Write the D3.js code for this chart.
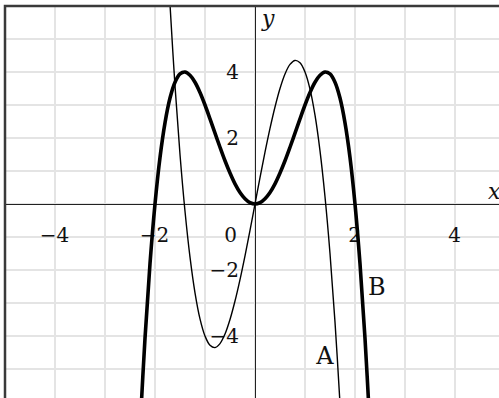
<!DOCTYPE html>
<html>
<head>
<meta charset="utf-8">
<script src="https://cdn.jsdelivr.net/npm/d3@7"></script>
<style>
  html, body { margin: 0; padding: 0; background: #fff; }
  svg { display: block; }
</style>
</head>
<body>
<div id="chart"></div>
<script>
// tick labels
const xTicks = [-4, -2, 2, 4];
const yTicks = [-4, -2, 2, 4];

// curve B (bold)
const bX = [-2.3, -2.2, -2.1, -2.0, -1.9, -1.8, -1.7, -1.6, -1.5, -1.4, -1.3, -1.2, -1.1, -1.0,
            -0.9, -0.8, -0.7, -0.6, -0.5, -0.4, -0.3, -0.2, -0.1, 0,
            0.1, 0.2, 0.3, 0.4, 0.5, 0.6, 0.7, 0.8, 0.9, 1.0,
            1.1, 1.2, 1.3, 1.4, 1.5, 1.6, 1.7, 1.8, 1.9, 2.0, 2.1, 2.2, 2.3];
const bY = [-6.82, -4.07, -1.81, 0, 1.41, 2.46, 3.21, 3.69, 3.94, 4.0, 3.9, 3.69, 3.38, 3.0,
            2.58, 2.15, 1.72, 1.31, 0.94, 0.61, 0.35, 0.16, 0.04, 0,
            0.04, 0.16, 0.35, 0.61, 0.94, 1.31, 1.72, 2.15, 2.58, 3.0,
            3.38, 3.69, 3.9, 4.0, 3.94, 3.69, 3.21, 2.46, 1.41, 0, -1.81, -4.07, -6.82];

// curve A (thin)
const aX = [-1.8, -1.75, -1.7, -1.6, -1.5, -1.4, -1.3, -1.2, -1.1, -1.0,
            -0.9, -0.8, -0.7, -0.6, -0.5, -0.4, -0.3, -0.2, -0.1, 0,
            0.1, 0.2, 0.3, 0.4, 0.5, 0.6, 0.7, 0.8, 0.9, 1.0,
            1.1, 1.2, 1.3, 1.4, 1.5, 1.6, 1.7, 1.75, 1.8];
const aY = [8.93, 7.44, 6.05, 3.58, 1.5, -0.22, -1.61, -2.69, -3.48, -4.0,
            -4.28, -4.35, -4.23, -3.94, -3.5, -2.94, -2.29, -1.57, -0.8, 0,
            0.8, 1.57, 2.29, 2.94, 3.5, 3.94, 4.23, 4.35, 4.28, 4.0,
            3.48, 2.69, 1.61, 0.22, -1.5, -3.58, -6.05, -7.44, -8.93];

const width = 499, height = 398;

const x = d3.scaleLinear().domain([-5, 5]).range([5, 505]);
const y = d3.scaleLinear().domain([-6, 6]).range([402, 6]);

const svg = d3.select("#chart")
    .append("svg")
    .attr("width", width)
    .attr("height", height);

svg.append("defs").append("clipPath")
    .attr("id", "plot")
  .append("rect")
    .attr("x", x(-5))
    .attr("y", y(6))
    .attr("width", x(5) - x(-5))
    .attr("height", y(-6) - y(6));

// grid
const grid = svg.append("g")
    .attr("stroke", "#e4e4e4")
    .attr("stroke-width", 2)
    .attr("shape-rendering", "crispEdges");

grid.selectAll(".vline")
    .data(d3.range(-4, 5))
    .enter().append("line")
    .attr("x1", (d) => x(d))
    .attr("x2", (d) => x(d))
    .attr("y1", y(6))
    .attr("y2", y(-6));

grid.selectAll(".hline")
    .data(d3.range(-5, 6))
    .enter().append("line")
    .attr("x1", x(-5))
    .attr("x2", x(5))
    .attr("y1", (d) => y(d))
    .attr("y2", (d) => y(d));

// axes
const xAxis = svg.append("g")
    .attr("transform", "translate(0," + y(0) + ")")
    .call(d3.axisBottom(x).tickValues(xTicks).tickSize(0).tickSizeOuter(0).tickPadding(24));

const yAxis = svg.append("g")
    .attr("transform", "translate(" + x(0) + ",0)")
    .call(d3.axisLeft(y).tickValues(yTicks).tickSize(0).tickSizeOuter(0).tickPadding(16));

[xAxis, yAxis].forEach((g) => {
    g.attr("font-family", "DejaVu Serif").attr("font-size", 20);
    g.select(".domain").attr("stroke", "#222").attr("stroke-width", 1.5)
        .attr("shape-rendering", "crispEdges");
    g.selectAll("text").attr("fill", "#111");
});
xAxis.selectAll("text").attr("dx", "-1");

// origin label
svg.append("text")
    .attr("x", x(0) - 18)
    .attr("y", y(0) + 38)
    .attr("text-anchor", "end")
    .attr("font-family", "DejaVu Serif")
    .attr("font-size", 20)
    .attr("fill", "#111")
    .text("0");

// curves
const curves = svg.append("g").attr("clip-path", "url(#plot)");

const line = d3.line()
    .x((d) => x(d[0]))
    .y((d) => y(d[1]))
    .curve(d3.curveCatmullRom);

curves.append("path")
    .datum(aX.map((v, i) => [v, aY[i]]))
    .attr("fill", "none")
    .attr("stroke", "#000")
    .attr("stroke-width", 1.4)
    .attr("d", line);

curves.append("path")
    .datum(bX.map((v, i) => [v, bY[i]]))
    .attr("fill", "none")
    .attr("stroke", "#000")
    .attr("stroke-width", 3.6)
    .attr("d", line);

// frame
svg.append("path")
    .attr("d", "M" + x(-5) + "," + height + "V" + y(6) + "H" + width)
    .attr("fill", "none")
    .attr("stroke", "#3a3a3a")
    .attr("stroke-width", 2.5);

// curve names and axis names
const labels = svg.append("g")
    .attr("font-family", "DejaVu Serif")
    .attr("fill", "#111");

labels.append("text")
    .attr("x", x(1.4))
    .attr("y", y(-4.85))
    .attr("text-anchor", "middle")
    .attr("font-size", 24)
    .text("A");

labels.append("text")
    .attr("x", x(2.26))
    .attr("y", y(-2.76))
    .attr("font-size", 24)
    .text("B");

labels.append("text")
    .attr("x", x(0.14))
    .attr("y", y(5.4))
    .attr("font-size", 22)
    .attr("font-style", "italic")
    .text("y");

labels.append("text")
    .attr("x", x(4.66))
    .attr("y", y(0.15))
    .attr("font-size", 22)
    .attr("font-style", "italic")
    .text("x");
</script>
</body>
</html>
